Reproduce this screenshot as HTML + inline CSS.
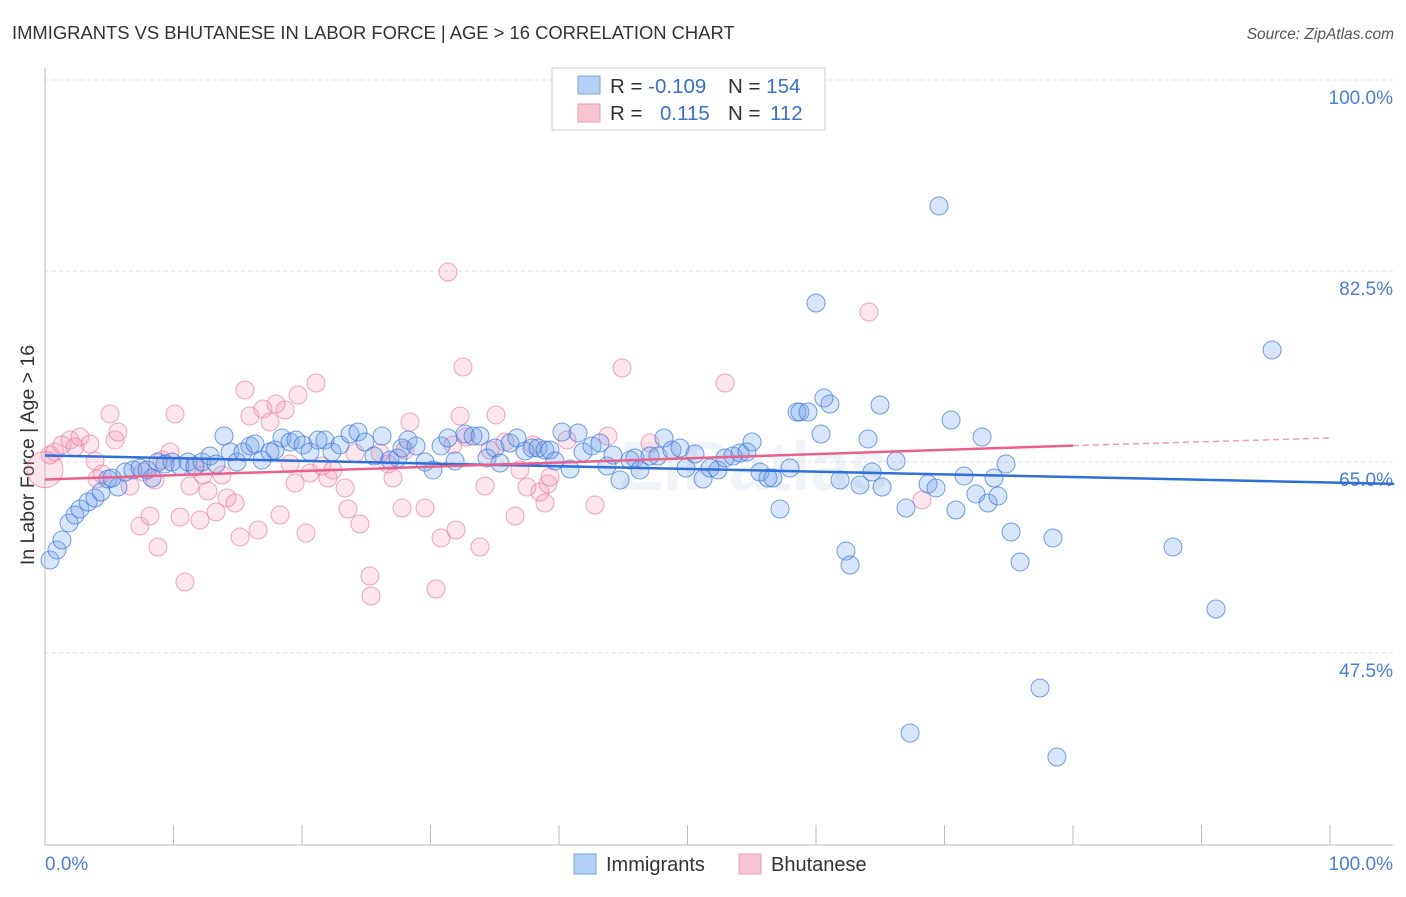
<!DOCTYPE html>
<html><head><meta charset="utf-8">
<style>
body{margin:0;background:#fff;font-family:"Liberation Sans",sans-serif;}
svg text{font-family:"Liberation Sans",sans-serif;}
</style></head>
<body>
<svg id="chart" width="1406" height="892" viewBox="0 0 1406 892" xmlns="http://www.w3.org/2000/svg">
<text x="12" y="39" font-size="18.4" fill="#333">IMMIGRANTS VS BHUTANESE IN LABOR FORCE | AGE &gt; 16 CORRELATION CHART</text>
<text x="1394" y="39" font-size="15.5" fill="#555" text-anchor="end" font-style="italic">Source: ZipAtlas.com</text>
<text x="620" y="490" font-size="70" fill="#f0f3f8" font-weight="bold">ZIPatlas</text>
<g id="grid"></g>
<line x1="45" y1="68" x2="45" y2="845" stroke="#bbb"/>
<line x1="45" y1="845" x2="1393" y2="845" stroke="#bbb"/>
<g id="xticks"></g>
<g id="ylabels"></g>
<text transform="translate(34,455) rotate(-90)" font-size="19.5" fill="#333" text-anchor="middle">In Labor Force | Age &gt; 16</text>
<text x="45" y="870" font-size="19" fill="#4a7fd4">0.0%</text>
<text x="1393" y="870" font-size="19" fill="#4a7fd4" text-anchor="end">100.0%</text>
<g id="pink"></g>
<g id="blue"></g>
<g id="trends"></g>
<g>
<rect x="552" y="68" width="273" height="62" fill="#fff" stroke="#ccc"/>
<rect x="578" y="76" width="22" height="18" fill="#b5d0f5" stroke="#7aa6e8"/>
<rect x="578" y="104" width="22" height="18" fill="#f8c4d3" stroke="#ec9ab3"/>
<text x="610" y="93" font-size="20.5" fill="#333">R = <tspan fill="#3a6fd0">-0.109</tspan><tspan x="728">N = </tspan><tspan fill="#3a6fd0">154</tspan></text>
<text x="610" y="120" font-size="20.5" fill="#333">R = <tspan x="660" fill="#3a6fd0">0.115</tspan><tspan x="728">N = </tspan><tspan x="770" fill="#3a6fd0">112</tspan></text>
</g>
<g>
<rect x="574" y="854" width="22" height="20" fill="#b5d0f5" stroke="#7aa6e8"/>
<text x="606" y="871" font-size="20" fill="#333">Immigrants</text>
<rect x="739" y="854" width="22" height="20" fill="#f8c4d3" stroke="#ec9ab3"/>
<text x="771" y="871" font-size="20" fill="#333">Bhutanese</text>
</g>
</svg>
<script>
const yTicks=[100,82.5,65,47.5];
const xTickVals=[0,10,20,30,40,50,60,70,80,90,100];
const bluePx=[[50,560],[57,550],[62,540],[69,523],[75,515],[80,509],[88,502],[95,498],[101,492],[108,479],[118,487],[112,478],[125,472],[133,470],[140,468],[147,470],[152,478],[158,462],[165,464],[172,462],[180,466],[188,462],[195,466],[202,462],[210,456],[216,464],[224,436],[230,452],[237,462],[243,452],[250,446],[255,444],[262,460],[270,452],[275,450],[282,438],[290,442],[296,440],[303,445],[310,452],[318,440],[325,440],[332,452],[340,445],[350,434],[358,432],[365,442],[374,456],[382,436],[390,460],[398,458],[402,448],[408,440],[416,446],[425,462],[433,470],[441,446],[448,438],[455,461],[465,434],[473,436],[480,436],[487,458],[495,448],[500,463],[510,443],[517,438],[525,451],[532,448],[538,448],[545,450],[550,450],[555,461],[562,432],[570,469],[578,433],[583,452],[592,446],[600,443],[607,466],[613,455],[620,480],[630,460],[635,458],[640,470],[650,456],[658,456],[664,438],[672,450],[680,448],[686,468],[695,454],[703,479],[710,468],[718,470],[725,458],[733,456],[740,453],[747,452],[752,442],[760,472],[768,478],[773,478],[780,509],[790,468],[797,412],[800,412],[808,412],[816,303],[821,434],[824,398],[830,404],[840,480],[846,551],[850,565],[860,485],[868,439],[872,472],[880,405],[882,487],[896,461],[906,508],[910,733],[928,484],[936,488],[939,206],[951,420],[956,510],[964,476],[976,494],[982,437],[988,503],[994,478],[998,496],[1006,464],[1011,532],[1020,562],[1040,688],[1053,538],[1057,757],[1173,547],[1216,609],[1272,350]];
const pinkPx=[[50,455],[55,452],[62,445],[70,440],[75,447],[80,437],[90,444],[95,461],[97,479],[102,474],[110,414],[115,440],[118,432],[130,486],[140,526],[143,472],[150,516],[155,480],[158,547],[162,460],[170,452],[175,414],[180,517],[185,582],[190,486],[195,467],[200,520],[203,475],[208,491],[216,512],[222,475],[227,498],[235,503],[240,537],[245,390],[250,416],[258,530],[263,409],[270,422],[276,404],[280,515],[285,410],[290,464],[295,483],[298,395],[306,533],[310,473],[316,383],[322,466],[328,478],[333,470],[345,488],[348,509],[355,453],[360,524],[370,576],[371,596],[380,453],[388,464],[393,478],[402,508],[405,450],[410,422],[425,508],[436,589],[441,538],[448,272],[453,445],[456,530],[460,416],[463,367],[466,437],[480,547],[485,486],[490,450],[496,415],[505,442],[515,516],[520,470],[527,487],[533,445],[540,492],[545,503],[548,484],[550,477],[567,440],[595,505],[608,436],[622,368],[650,443],[725,383],[869,312],[922,500]];
// data values (percent) derived from reading the picture
const blueX=bluePx.map(p=>+((p[0]-45)/12.85).toFixed(2));
const blueY=bluePx.map(p=>+(100-(p[1]-80)/10.914).toFixed(2));
const pinkX=pinkPx.map(p=>+((p[0]-45)/12.85).toFixed(2));
const pinkY=pinkPx.map(p=>+(100-(p[1]-80)/10.914).toFixed(2));
const blueTrend=[[0,65.6],[105,63.0]];
const pinkTrend=[[0,63.4],[80,66.5],[100,67.2]];

const NS="http://www.w3.org/2000/svg";
const xs=v=>45+v*12.85;
const ys=v=>80+(100-v)*10.914;
function mk(tag,attrs,parent){const e=document.createElementNS(NS,tag);for(const k in attrs)e.setAttribute(k,attrs[k]);parent.appendChild(e);return e;}
const grid=document.getElementById('grid'),yl=document.getElementById('ylabels'),xt=document.getElementById('xticks');
yTicks.forEach(v=>{
 const l=mk('line',{x1:45,x2:1393,y1:ys(v),y2:ys(v),stroke:'#ddd','stroke-dasharray':'4,3'},grid);
 
 
 const t=mk('text',{x:1393,y:ys(v)+24,'font-size':19,fill:'#4a7fd4','text-anchor':'end'},yl);
 t.textContent=v.toFixed(1)+'%';
 
 
});
xTickVals.forEach(v=>{
 const l=mk('line',{x1:xs(v),x2:xs(v),y1:825,y2:845,stroke:'#bbb'},xt);
 
 
});
const pg=document.getElementById('pink');
pinkX.forEach((x,i)=>{
 const c=mk('circle',{cx:xs(x),cy:ys(pinkY[i]),r:9,fill:'rgba(244,150,178,0.25)',stroke:'rgba(232,120,155,0.65)','stroke-width':1},pg);
 
 
});
const big=mk('circle',{cx:xs(0),cy:ys(64.3),r:18,fill:'rgba(244,150,178,0.25)',stroke:'rgba(232,120,155,0.65)'},pg);


const bg=document.getElementById('blue');
blueX.forEach((x,i)=>{
 const c=mk('circle',{cx:xs(x),cy:ys(blueY[i]),r:9,fill:'rgba(110,160,235,0.27)',stroke:'rgba(60,120,220,0.7)','stroke-width':1},bg);
 
 
});
const tg=document.getElementById('trends');
const bt=mk('line',{x1:xs(blueTrend[0][0]),y1:ys(blueTrend[0][1]),x2:xs(blueTrend[1][0]),y2:ys(blueTrend[1][1]),stroke:'#2f6fd6','stroke-width':2.5},tg);


const pt=mk('line',{x1:xs(pinkTrend[0][0]),y1:ys(pinkTrend[0][1]),x2:xs(pinkTrend[1][0]),y2:ys(pinkTrend[1][1]),stroke:'#e8608c','stroke-width':2.5},tg);


const pd=mk('line',{x1:xs(pinkTrend[1][0]),y1:ys(pinkTrend[1][1]),x2:xs(pinkTrend[2][0]),y2:ys(pinkTrend[2][1]),stroke:'#e8a0b8','stroke-width':1.5,'stroke-dasharray':'6,4'},tg);


</script>
</body></html>
